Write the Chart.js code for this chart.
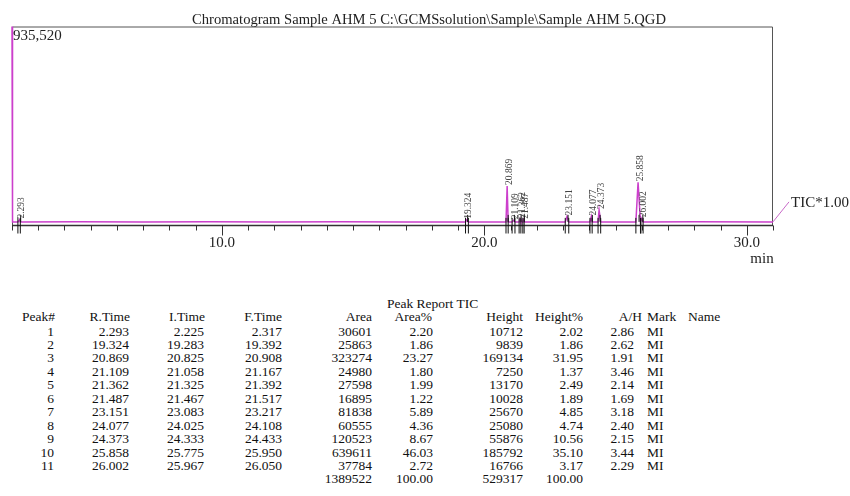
<!DOCTYPE html>
<html>
<head>
<meta charset="utf-8">
<title>Chromatogram Sample AHM 5</title>
<script src="https://cdn.jsdelivr.net/npm/chart.js@4"></script>
<style>
  body { margin: 0; background: #fff; }
  #wrap { position: relative; width: 850px; height: 496px; overflow: hidden; }
  #chart { position: absolute; left: 0; top: 0; }
  .cell { position: absolute; font: 13.5px "Liberation Serif", serif; color: #111; white-space: nowrap; line-height: 1; }
</style>
</head>
<body>
<div id="wrap">
  <canvas id="chart" width="850" height="270"></canvas>
  <div id="report"></div>
</div>
<script>
const chartTitle = 'Chromatogram Sample AHM 5 C:\\GCMSsolution\\Sample\\Sample AHM 5.QGD'
const fullScale = 935520

// TIC trace (minutes, counts)
const traceTime = [2.00, 2.02, 2.225, 2.293, 2.317, 4.5, 7.0, 9.5, 12.0, 14.5, 17.0,
  19.283, 19.324, 19.392, 20.825, 20.869, 20.908, 21.058, 21.109, 21.167,
  21.325, 21.362, 21.392, 21.467, 21.487, 21.517, 23.083, 23.151, 23.217,
  24.025, 24.077, 24.108, 24.333, 24.373, 24.433, 25.775, 25.858, 25.950,
  25.967, 26.002, 26.050, 28.0, 31.0]
const traceTIC = [935520, 17000, 17000, 27700, 17000, 17300, 16800, 17200, 16900, 17300, 17000,
  17000, 26800, 17000, 17000, 186100, 17000, 17000, 24300, 17000,
  17000, 30200, 17000, 17000, 27000, 17000, 17000, 42700, 17000,
  17000, 42100, 17000, 17000, 72900, 17000, 17000, 202800, 17000,
  17000, 33800, 17000, 17200, 17000]

// axis
const majorTicks = [10, 20, 30]
const majorLabels = ['10.0', '20.0', '30.0']

// peak report
const peakNo = [1, 2, 3, 4, 5, 6, 7, 8, 9, 10, 11]
const rTime = [2.293, 19.324, 20.869, 21.109, 21.362, 21.487, 23.151, 24.077, 24.373, 25.858, 26.002]
const iTime = [2.225, 19.283, 20.825, 21.058, 21.325, 21.467, 23.083, 24.025, 24.333, 25.775, 25.967]
const fTime = [2.317, 19.392, 20.908, 21.167, 21.392, 21.517, 23.217, 24.108, 24.433, 25.950, 26.050]
const area = [30601, 25863, 323274, 24980, 27598, 16895, 81838, 60555, 120523, 639611, 37784]
const areaPct = ['2.20', '1.86', '23.27', '1.80', '1.99', '1.22', '5.89', '4.36', '8.67', '46.03', '2.72']
const height = [10712, 9839, 169134, 7250, 13170, 10028, 25670, 25080, 55876, 185792, 16766]
const heightPct = ['2.02', '1.86', '31.95', '1.37', '2.49', '1.89', '4.85', '4.74', '10.56', '35.10', '3.17']
const aOverH = ['2.86', '2.62', '1.91', '3.46', '2.14', '1.69', '3.18', '2.40', '2.15', '3.44', '2.29']
const mark = ['MI', 'MI', 'MI', 'MI', 'MI', 'MI', 'MI', 'MI', 'MI', 'MI', 'MI']
const totalArea = 1389522
const totalHeight = 529317

const serif = '"Liberation Serif", serif'

const chromPlugin = {
  id: 'chrom',
  beforeDatasetsDraw(chart) {
    const {ctx, chartArea: a} = chart
    ctx.save()
    ctx.strokeStyle = '#555'
    ctx.lineWidth = 1
    ctx.beginPath()
    ctx.moveTo(a.left + 0.5, a.bottom)
    ctx.lineTo(a.left + 0.5, a.top + 0.5)
    ctx.lineTo(a.right - 0.5, a.top + 0.5)
    ctx.lineTo(a.right - 0.5, a.bottom)
    ctx.stroke()

    ctx.fillStyle = '#222'
    ctx.font = '14.6px ' + serif
    ctx.textAlign = 'center'
    ctx.textBaseline = 'alphabetic'
    ctx.fillText(chartTitle, 429, 24)
    ctx.restore()
  },
  afterDraw(chart) {
    const {ctx, chartArea: a, scales: {x, y}} = chart
    ctx.save()

    // time axis
    ctx.strokeStyle = '#333'
    ctx.lineWidth = 1.5
    ctx.beginPath()
    ctx.moveTo(a.left, a.bottom)
    ctx.lineTo(a.right, a.bottom)
    ctx.stroke()
    ctx.lineWidth = 1
    for (let t = 2; t <= 31; t++) {
      const px = Math.round(x.getPixelForValue(t)) + 0.5
      const len = majorTicks.includes(t) ? 10 : 5
      ctx.beginPath()
      ctx.moveTo(px, a.bottom)
      ctx.lineTo(px, a.bottom + len)
      ctx.stroke()
    }
    ctx.fillStyle = '#222'
    ctx.font = '15px ' + serif
    ctx.textAlign = 'center'
    ctx.textBaseline = 'alphabetic'
    majorTicks.forEach((t, i) => ctx.fillText(majorLabels[i], x.getPixelForValue(t), 247))
    ctx.fillText('min', 762, 262.5)

    // full-scale value
    ctx.textAlign = 'left'
    ctx.fillText(fullScale.toLocaleString('en-US'), a.left + 1, 40)

    // peak markers and retention time labels
    rTime.forEach((rt, i) => {
      const tip = traceTIC[traceTime.indexOf(rt)]
      const base = traceTIC[traceTime.indexOf(iTime[i])]
      const yb = y.getPixelForValue(base)
      ctx.strokeStyle = '#111'
      ctx.lineWidth = 1
      ;[iTime[i], fTime[i]].forEach(t => {
        const px = x.getPixelForValue(t)
        ctx.beginPath()
        ctx.moveTo(px, yb - 4)
        ctx.lineTo(px, a.bottom + 8)
        ctx.stroke()
      })
      const pr = x.getPixelForValue(rt)
      ctx.beginPath()
      ctx.moveTo(pr + 1, yb - 7)
      ctx.lineTo(pr + 1, yb)
      ctx.stroke()

      ctx.save()
      ctx.translate(pr + 2, y.getPixelForValue(tip) - 1)
      ctx.rotate(-Math.PI / 2)
      ctx.fillStyle = '#444'
      ctx.font = '9.5px ' + serif
      ctx.textAlign = 'left'
      ctx.textBaseline = 'middle'
      ctx.fillText(rt.toFixed(3), 0, 0)
      ctx.restore()
    })

    // trace label
    const yEnd = y.getPixelForValue(traceTIC[traceTIC.length - 1])
    ctx.strokeStyle = '#c86ac8'
    ctx.lineWidth = 1
    ctx.beginPath()
    ctx.moveTo(a.right, yEnd)
    ctx.lineTo(a.right + 16, yEnd - 20)
    ctx.stroke()
    ctx.fillStyle = '#222'
    ctx.font = '15px ' + serif
    ctx.textAlign = 'left'
    ctx.textBaseline = 'alphabetic'
    ctx.fillText('TIC*1.00', 791, 206.5)
    ctx.restore()
  }
}

new Chart(document.getElementById('chart'), {
  type: 'line',
  data: {
    datasets: [{
      label: 'TIC*1.00',
      data: traceTime.map((t, i) => ({x: t, y: traceTIC[i]})),
      borderColor: '#cc3fcc',
      borderWidth: 1.5,
      pointRadius: 0,
      tension: 0,
      clip: 2,
    }]
  },
  options: {
    responsive: false,
    animation: false,
    layout: {padding: {left: 12, right: 77, top: 26.5, bottom: 44.5}},
    scales: {
      x: {type: 'linear', min: 2, max: 31, display: false},
      y: {min: 0, max: fullScale, display: false},
    },
    plugins: {
      legend: {display: false},
      tooltip: {enabled: false},
      title: {display: false},
    },
  },
  plugins: [chromPlugin],
})

// peak report table
const report = document.getElementById('report')
function cell(text, xPos, yPos, align) {
  const d = document.createElement('div')
  d.className = 'cell'
  d.textContent = text
  d.style.left = xPos + 'px'
  d.style.top = yPos + 'px'
  d.style.transform = align === 'left' ? 'translate(0,-50%)' : 'translate(-100%,-50%)'
  report.appendChild(d)
}
const headY = 316.5
const rowY = 331.5
const rowH = 13.45
cell('Peak Report TIC', 387, 303.5, 'left')
const cols = [
  {head: 'Peak#', hx: 55, vx: 54, vals: peakNo},
  {head: 'R.Time', hx: 130, vx: 129, vals: rTime.map(v => v.toFixed(3))},
  {head: 'I.Time', hx: 205, vx: 204, vals: iTime.map(v => v.toFixed(3))},
  {head: 'F.Time', hx: 282, vx: 282, vals: fTime.map(v => v.toFixed(3))},
  {head: 'Area', hx: 372, vx: 372, vals: area},
  {head: 'Area%', hx: 432, vx: 433, vals: areaPct},
  {head: 'Height', hx: 523, vx: 523, vals: height},
  {head: 'Height%', hx: 583, vx: 583, vals: heightPct},
  {head: 'A/H', hx: 642, vx: 634, vals: aOverH},
]
cols.forEach(c => {
  cell(c.head, c.hx, headY)
  c.vals.forEach((v, i) => cell(String(v), c.vx, rowY + i * rowH))
})
cell('Mark', 647, headY, 'left')
cell('Name', 688, headY, 'left')
mark.forEach((m, i) => cell(m, 647, rowY + i * rowH, 'left'))
const totY = rowY + peakNo.length * rowH
cell(String(totalArea), 372, totY)
cell('100.00', 433, totY)
cell(String(totalHeight), 523, totY)
cell('100.00', 583, totY)
</script>
</body>
</html>
